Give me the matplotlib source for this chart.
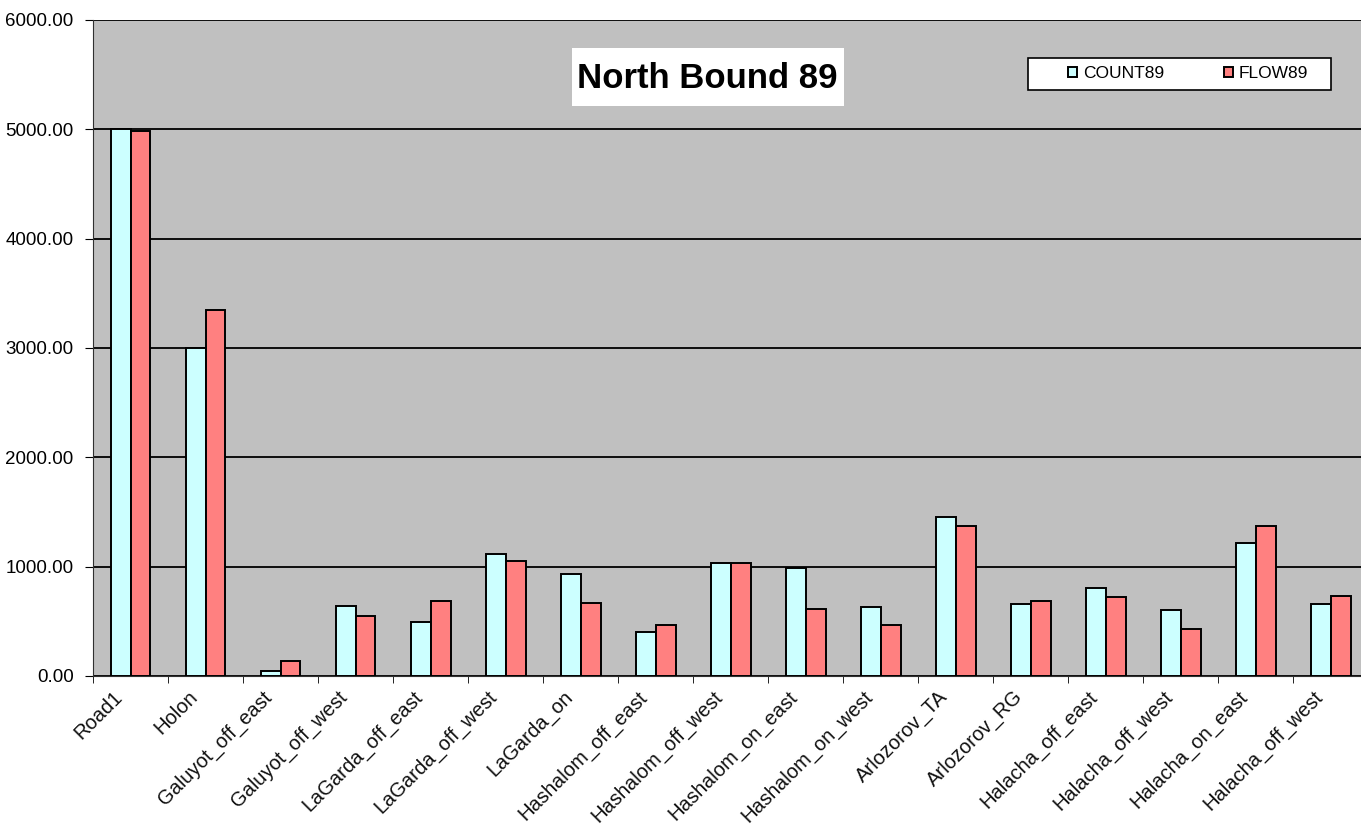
import numpy as np
import matplotlib
matplotlib.use("Agg")
from matplotlib import pyplot as plt
from matplotlib.patches import Rectangle

# data
labels = ["Road1", "Holon", "Galuyot_off_east", "Galuyot_off_west",
          "LaGarda_off_east", "LaGarda_off_west", "LaGarda_on",
          "Hashalom_off_east", "Hashalom_off_west", "Hashalom_on_east",
          "Hashalom_on_west", "Arlozorov_TA", "Arlozorov_RG",
          "Halacha_off_east", "Halacha_off_west", "Halacha_on_east",
          "Halacha_off_west"]
count89 = [5000, 3000, 45, 640, 490, 1120, 935, 400, 1035, 988, 632,
           1450, 663, 802, 601, 1220, 663]
flow89 = [4985, 3344, 140, 545, 690, 1053, 666, 467, 1035, 616, 467,
          1368, 684, 718, 433, 1368, 731]
yticks = [0, 1000, 2000, 3000, 4000, 5000, 6000]

plt.rcParams['font.family'] = ['Liberation Sans', 'DejaVu Sans']

W, H = 1361, 831
fig = plt.figure(figsize=(W / 100, H / 100), dpi=100)
ax = fig.add_axes([93 / W, 1 - 676 / H, 1 - 93 / W, (676 - 20) / H])
ax.set_facecolor("#C0C0C0")

x = np.arange(len(labels))
w = 0.265
b1 = ax.bar(x - w / 2, count89, w, color="#CCFFFF", edgecolor="black",
            linewidth=1.4, label="COUNT89", zorder=3)
b2 = ax.bar(x + w / 2, flow89, w, color="#FF8080", edgecolor="black",
            linewidth=1.4, label="FLOW89", zorder=3)

ax.set_xlim(-0.5, 16.4)
ax.set_ylim(0, 6000)
ax.set_yticks(yticks)
ax.set_yticklabels(["%.2f" % v for v in yticks], fontsize=13.5)
ax.yaxis.grid(True, color="black", linewidth=1.3, zorder=1)
ax.set_axisbelow(True)

# category labels (nudged a bit left like Excel does), tick marks on
# the category boundaries
ax.set_xticks(x - 0.15)
ax.set_xticklabels(labels, rotation=45, ha="right", va="center",
                   rotation_mode="anchor", fontsize=14.5, color="#111111")
ax.tick_params(axis="x", which="major", length=0, pad=13)
ax.set_xticks(np.arange(len(labels)) - 0.5, minor=True)
ax.tick_params(axis="x", which="minor", length=5, color="black")
ax.tick_params(axis="y", length=6, color="black", pad=8)

for s in ["top", "right"]:
    ax.spines[s].set_visible(False)
ax.spines["left"].set_color("#303030")
ax.spines["bottom"].set_color("#303030")

# title box
fig.add_artist(Rectangle((572 / W, 1 - 106 / H), 272 / W, 58 / H,
                         transform=fig.transFigure, facecolor="white",
                         edgecolor="none", zorder=4))
fig.text(707.5 / W, 1 - 88.5 / H, "North Bound 89", ha="center",
         va="baseline", fontsize=25, fontweight="bold", zorder=5)

# legend box
fig.add_artist(Rectangle((1028 / W, 1 - 90 / H), 303 / W, 32 / H,
                         transform=fig.transFigure, facecolor="white",
                         edgecolor="black", linewidth=1.2, zorder=4))
fig.legend(handles=[b1, b2], loc="center left",
           bbox_to_anchor=(1059 / W, 1 - 74 / H), ncol=2, fontsize=12.5,
           frameon=False, borderpad=0, handlelength=0.52, handleheight=0.52,
           handletextpad=0.35, columnspacing=3.45)

fig.savefig("out.png", dpi=100)
